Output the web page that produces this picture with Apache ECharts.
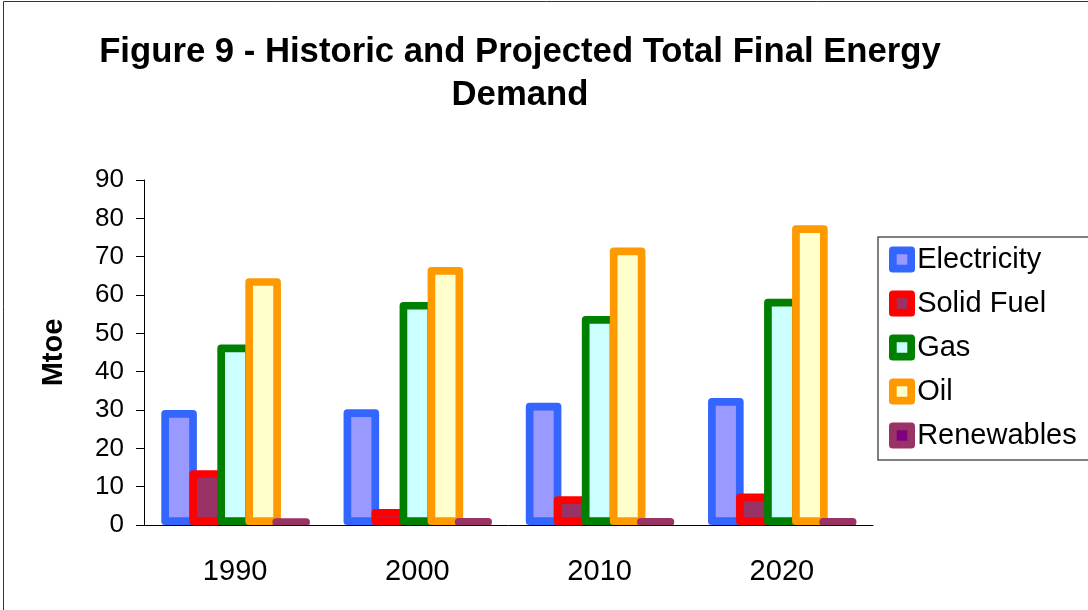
<!DOCTYPE html>
<html>
<head>
<meta charset="utf-8">
<script src="https://cdn.jsdelivr.net/npm/echarts@6/dist/echarts.min.js"></script>
<style>
  html, body { margin: 0; padding: 0; background: #ffffff; }
  #chart { width: 1088px; height: 610px; }
</style>
</head>
<body>
<div id="chart"></div>
<script>
// Total final energy demand by fuel, Mtoe
const categories = ['1990', '2000', '2010', '2020'];
const seriesNames = ['Electricity', 'Solid Fuel', 'Gas', 'Oil', 'Renewables'];
const electricity = [30.0, 30.2, 31.9, 33.1];
const solidFuel = [14.3, 4.2, 7.5, 8.2];
const gas = [47.1, 58.2, 54.5, 59.0];
const oil = [64.4, 67.3, 72.4, 78.2];
const renewables = [1.5, 1.6, 1.6, 1.6];
const yMin = 0, yMax = 90, yStep = 10;

const values = [electricity, solidFuel, gas, oil, renewables];
const edgeColors = ['#3366FF', '#FF0000', '#008000', '#FF9900', '#993366'];
const fillColors = ['#9999FF', '#993366', '#CCFFFF', '#FFFFCC', '#800080'];

const FONT = '"Liberation Sans", Arial, sans-serif';
const EDGE = 7.7;
const grid = { left: 144, right: 215, top: 180, bottom: 85 };

const chart = echarts.init(document.getElementById('chart'), null, { renderer: 'canvas' });

chart.setOption({
  animation: false,
  backgroundColor: '#ffffff',
  title: {
    text: 'Figure 9 - Historic and Projected Total Final Energy\nDemand',
    left: 520,
    top: 31,
    padding: 0,
    textAlign: 'center',
    textStyle: {
      fontFamily: FONT,
      fontSize: 34.7,
      fontWeight: 'bold',
      color: '#000000',
      lineHeight: 43
    }
  },
  legend: {
    orient: 'vertical',
    left: 878,
    top: 237,
    padding: [8, 40, 10, 11],
    itemWidth: 18.3,
    itemHeight: 18.3,
    itemGap: 15,
    icon: 'rect',
    borderColor: '#555555',
    borderWidth: 1.5,
    itemStyle: { borderWidth: EDGE },
    textStyle: {
      fontFamily: FONT,
      fontSize: 29,
      lineHeight: 29,
      color: '#000000',
      padding: [0, 0, 0, 1]
    },
    selectedMode: false,
    data: seriesNames
  },
  grid: grid,
  xAxis: {
    type: 'category',
    data: categories,
    z: 10,
    axisLine: { lineStyle: { color: '#000000', width: 1 } },
    axisTick: { length: 8, lineStyle: { color: '#000000' } },
    axisLabel: { fontFamily: FONT, fontSize: 29, color: '#000000', margin: 32 },
    splitLine: { show: false }
  },
  yAxis: {
    type: 'value',
    min: yMin,
    max: yMax,
    interval: yStep,
    name: 'Mtoe',
    nameLocation: 'middle',
    nameRotate: 90,
    nameGap: 76,
    nameTextStyle: { fontFamily: FONT, fontSize: 29, fontWeight: 'bold', color: '#000000' },
    axisLine: { show: true, lineStyle: { color: '#000000', width: 1 } },
    axisTick: { show: true, length: 8, lineStyle: { color: '#000000' } },
    axisLabel: { fontFamily: FONT, fontSize: 26, color: '#000000', margin: 20 },
    splitLine: { show: false }
  },
  series: seriesNames.map((name, i) => ({
    name: name,
    type: 'bar',
    data: values[i],
    barWidth: 35.6,
    barGap: '-21.3%',
    itemStyle: {
      color: fillColors[i],
      borderColor: edgeColors[i],
      borderWidth: EDGE,
      borderJoin: 'round'
    },
    emphasis: { disabled: true }
  })),
  // thin frame around the whole chart area
  graphic: [
    {
      type: 'rect',
      silent: true,
      z: 20,
      shape: { x: 3.5, y: 1.5, width: 1200, height: 700 },
      style: { fill: null, stroke: '#333333', lineWidth: 1 }
    }
  ]
});
</script>
</body>
</html>
